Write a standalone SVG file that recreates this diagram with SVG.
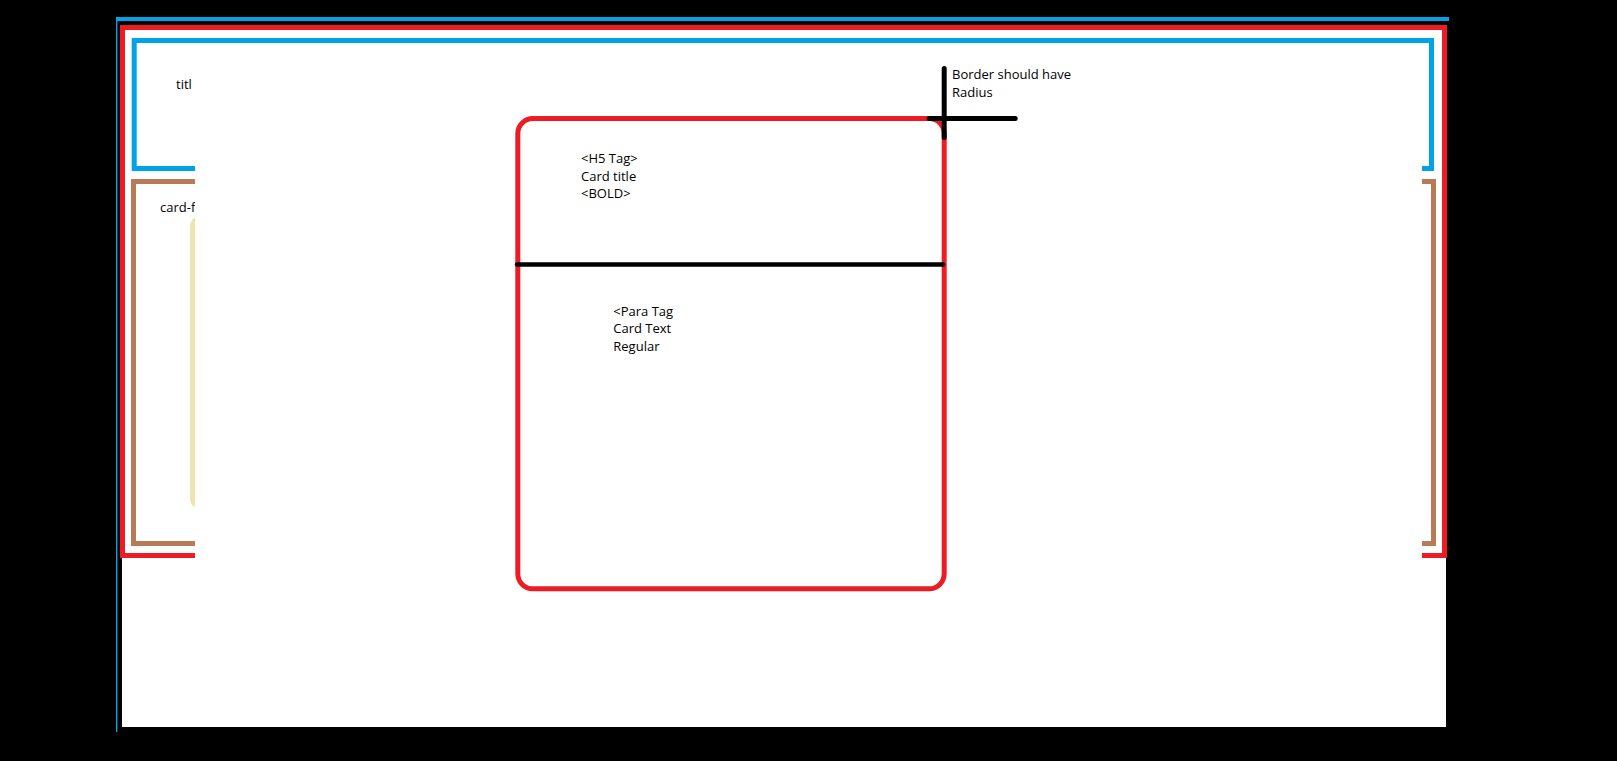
<svg xmlns="http://www.w3.org/2000/svg" width="1617" height="761" viewBox="0 0 1617 761">
  <style>
    .lbl { font-family: "Open Sans", "Noto Sans", "Liberation Sans", sans-serif; font-size: 13px; fill: #000000; }
    .frame { fill: none; stroke-width: 5; }
    .red { stroke: #ED1C24; }
    .blue { stroke: #00A2E8; }
    .brown { stroke: #B97A57; }
    .yellow { stroke: #EFE4B0; }
    .ink { stroke: #000000; fill: none; }
  </style>

  <!-- canvas -->
  <rect x="0" y="0" width="1617" height="761" fill="#000000"/>
  <rect x="116" y="17" width="1333" height="4" fill="#00A2E8"/>
  <rect x="116" y="17" width="1.4" height="715" fill="#00A2E8"/>
  <rect x="122" y="25" width="1324" height="702" fill="#FFFFFF"/>

  <!-- page layout frames -->
  <g id="page-frame">
    <rect class="frame red" x="122.5" y="27.5" width="1322" height="528"/>
  </g>
  <g id="title-section">
    <rect class="frame blue" x="134.2" y="40.5" width="1297.3" height="128"/>
    <text class="lbl" x="176" y="89">titl</text>
  </g>
  <g id="card-footer-section">
    <rect class="frame brown" x="133.5" y="181.5" width="1300" height="362"/>
    <rect class="frame yellow" x="192.5" y="218.5" width="300" height="288" rx="7.5"/>
    <text class="lbl" x="160" y="212">card-f</text>
  </g>

  <!-- white panel laid over the frames -->
  <rect x="195" y="44" width="1227" height="520" fill="#FFFFFF"/>

  <!-- card -->
  <g id="card">
    <rect class="frame red" x="517.8" y="118.5" width="426.4" height="470.3" rx="15"/>
    <text class="lbl" x="581" y="162.7">&lt;H5 Tag&gt;</text>
    <text class="lbl" x="581" y="180.7">Card title</text>
    <text class="lbl" x="581" y="198.3">&lt;BOLD&gt;</text>
    <text class="lbl" x="613.3" y="316">&lt;Para Tag</text>
    <text class="lbl" x="613.3" y="333.3">Card Text</text>
    <text class="lbl" x="613.3" y="351">Regular</text>
  </g>

  <!-- annotation marks -->
  <g id="connectors">
    <line class="ink" x1="517" y1="264.5" x2="943" y2="264.5" stroke-width="4.5" stroke-linecap="round"/>
    <line class="ink" x1="944.2" y1="68.5" x2="944.2" y2="137.5" stroke-width="5" stroke-linecap="round"/>
    <line class="ink" x1="929.2" y1="118.5" x2="1015.2" y2="118.5" stroke-width="5" stroke-linecap="round"/>
  </g>

  <g id="radius-note">
    <text class="lbl" x="952" y="79">Border should have</text>
    <text class="lbl" x="952" y="97">Radius</text>
  </g>
</svg>
